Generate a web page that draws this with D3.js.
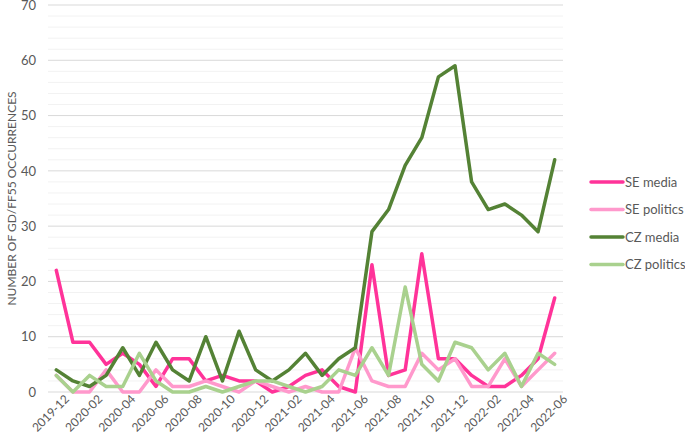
<!DOCTYPE html>
<html>
<head>
<meta charset="utf-8">
<script src="https://cdn.jsdelivr.net/npm/d3@7"></script>
<style>
  body { margin: 0; background: #fff; }
  svg { display: block; font-family: Lato, 'Open Sans', sans-serif; }
</style>
</head>
<body>
<div id="chart"></div>
<script>
const months = ['2019-12', '2020-01', '2020-02', '2020-03', '2020-04', '2020-05', '2020-06', '2020-07',
  '2020-08', '2020-09', '2020-10', '2020-11', '2020-12', '2021-01', '2021-02', '2021-03', '2021-04',
  '2021-05', '2021-06', '2021-07', '2021-08', '2021-09', '2021-10', '2021-11', '2021-12', '2022-01',
  '2022-02', '2022-03', '2022-04', '2022-05', '2022-06'];

const seMedia = [22, 9, 9, 5, 7, 5, 1, 6, 6, 2, 3, 2, 2, 0, 1, 3, 4, 1, 0, 23, 3, 4, 25, 6, 6, 3, 1, 1, 3, 6, 17];
const sePolitics = [3, 0, 0, 4, 0, 0, 4, 1, 1, 2, 1, 0, 2, 1, 0, 1, 0, 0, 8, 2, 1, 1, 7, 4, 6, 1, 1, 6, 1, 4, 7];
const czMedia = [4, 2, 1, 3, 8, 3, 9, 4, 2, 10, 2, 11, 4, 2, 4, 7, 3, 6, 8, 29, 33, 41, 46, 57, 59, 38, 33, 34, 32, 29, 42];
const czPolitics = [3, 0, 3, 1, 1, 7, 2, 0, 0, 1, 0, 1, 2, 2, 1, 0, 1, 4, 3, 8, 3, 19, 5, 2, 9, 8, 4, 7, 1, 7, 5];

const seriesNames = ['SE media', 'SE politics', 'CZ media', 'CZ politics'];
const seriesColors = ['#ff3399', '#ff99cc', '#548235', '#a9d18e'];
const yTicks = [0, 10, 20, 30, 40, 50, 60, 70];

const
  width = 685,
  height = 445,
  pad = { top: 5, right: 122, bottom: 53, left: 48 },
  w = width - pad.left - pad.right,
  h = height - pad.top - pad.bottom,
  textColor = '#595959';

const series = [seMedia, sePolitics, czMedia, czPolitics];

const svg = d3.select('#chart')
  .append('svg')
  .attr('width', width)
  .attr('height', height);

const x = d3.scalePoint()
  .domain(months)
  .range([0, w])
  .padding(0.5);

const y = d3.scaleLinear()
  .domain([0, 70])
  .range([h, 0]);

const g = svg.append('g')
  .attr('transform', 'translate(' + pad.left + ',' + pad.top + ')');

// minor gridlines every 2
g.append('g')
  .selectAll('line')
  .data(d3.range(2, 70, 2).filter(function (d) { return d % 10 !== 0; }))
  .enter().append('line')
  .attr('x1', 0)
  .attr('x2', w)
  .attr('y1', function (d) { return y(d); })
  .attr('y2', function (d) { return y(d); })
  .attr('stroke', '#f2f2f2')
  .attr('stroke-width', 1);

// major gridlines
g.append('g')
  .selectAll('line')
  .data(yTicks)
  .enter().append('line')
  .attr('x1', 0)
  .attr('x2', w)
  .attr('y1', function (d) { return y(d); })
  .attr('y2', function (d) { return y(d); })
  .attr('stroke', '#d9d9d9')
  .attr('stroke-width', 1);

// y axis labels
const yAxis = g.append('g')
  .call(d3.axisLeft(y).tickValues(yTicks).tickSize(0).tickPadding(12));
yAxis.select('.domain').remove();
yAxis.selectAll('text')
  .attr('fill', textColor)
  .attr('font-size', 13)
  .attr('font-family', 'Lato, sans-serif');

// x axis labels
const xAxis = g.append('g')
  .attr('transform', 'translate(0,' + h + ')')
  .call(d3.axisBottom(x)
    .tickValues(months.filter(function (d, i) { return i % 2 === 0; }))
    .tickSize(0)
    .tickPadding(4));
xAxis.select('.domain').remove();
xAxis.selectAll('text')
  .attr('fill', textColor)
  .attr('font-size', 12)
  .attr('font-family', 'Lato, sans-serif')
  .attr('text-anchor', 'end')
  .attr('dx', '0.3em')
  .attr('dy', '0.9em')
  .attr('transform', 'rotate(-45)');

// y axis title
svg.append('text')
  .attr('transform', 'translate(12,' + (pad.top + h / 2) + ') rotate(-90)')
  .attr('text-anchor', 'middle')
  .attr('dy', '0.35em')
  .attr('fill', textColor)
  .attr('font-size', 12)
  .text('NUMBER OF GD/FF55 OCCURRENCES');

const line = d3.line()
  .x(function (d, i) { return x(months[i]); })
  .y(function (d) { return y(d); });

series.forEach(function (s, i) {
  g.append('path')
    .datum(s)
    .attr('fill', 'none')
    .attr('stroke', seriesColors[i])
    .attr('stroke-width', 3.5)
    .attr('stroke-linejoin', 'round')
    .attr('stroke-linecap', 'round')
    .attr('d', line);
});

// legend
const legend = svg.append('g')
  .selectAll('g')
  .data(seriesNames)
  .enter().append('g')
  .attr('transform', function (d, i) { return 'translate(591,' + (182 + i * 27.5) + ')'; });

legend.append('line')
  .attr('x1', 0)
  .attr('x2', 32)
  .attr('stroke', function (d, i) { return seriesColors[i]; })
  .attr('stroke-width', 3.5)
  .attr('stroke-linecap', 'round');

legend.append('text')
  .attr('x', 34)
  .attr('dy', '0.35em')
  .attr('fill', textColor)
  .attr('font-size', 13)
  .text(function (d) { return d; });
</script>
</body>
</html>
